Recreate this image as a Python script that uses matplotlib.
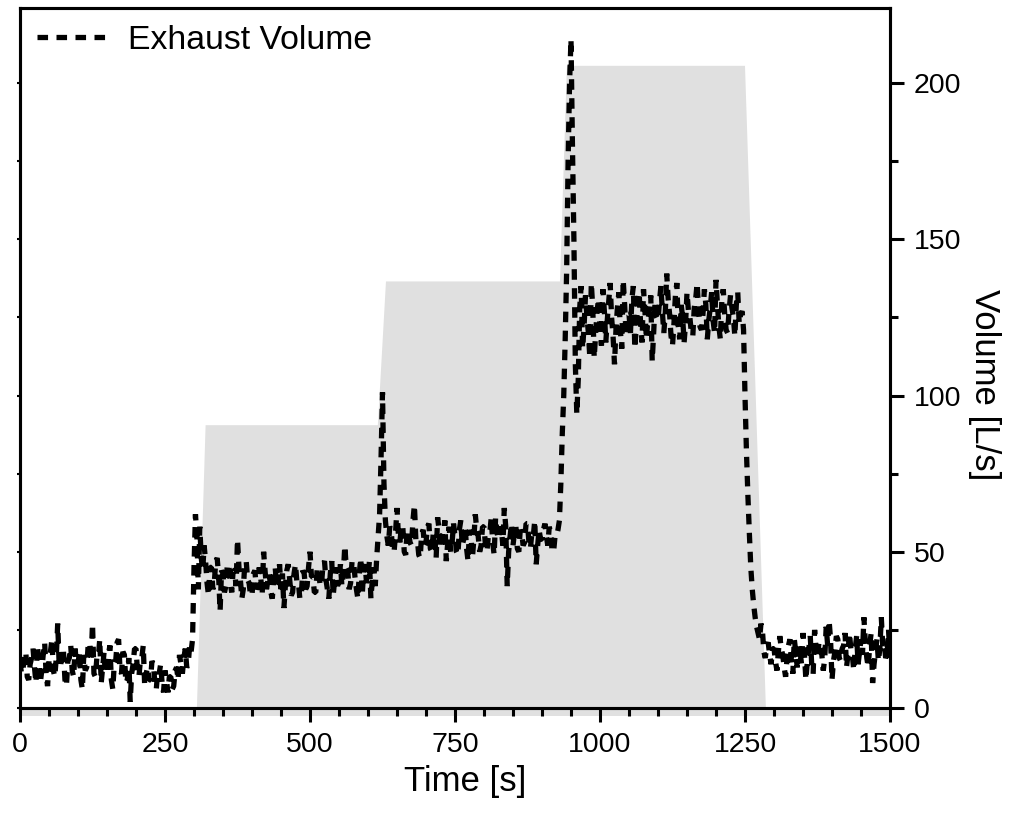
import numpy as np
import matplotlib
matplotlib.use('Agg')
import matplotlib.pyplot as plt
from matplotlib.ticker import MultipleLocator

plt.rcParams['font.family'] = ['Liberation Sans', 'DejaVu Sans']

# ---- data, one row = 50 s ----
time_step_s = 2.5
volume_Ls = [
    15, 11, 12, 17, 18, 10, 9, 14, 16, 19, 13, 8, 20, 15, 8, 12, 17, 21, 11, 7,
    15, 18, 22, 12, 10, 16, 27, 14, 13, 19, 18, 9, 7, 15, 16, 20, 12, 10, 19, 14,
    14, 18, 9, 6, 17, 12, 13, 20, 21, 15, 27, 11, 10, 16, 16, 22, 8, 13, 18, 11,
    12, 17, 20, 9, 6, 14, 15, 21, 22, 12, 11, 18, 17, 8, 9, 16, 2, 11, 14, 19,
    19, 12, 10, 15, 16, 20, 7, 11, 13, 9, 9, 15, 14, 8, 6, 12, 11, 14, 8, 5,
    12, 9, 5, 10, 10, 6, 7, 12, 13, 9, 17, 14, 11, 16, 19, 13, 14, 20, 18, 22,
    45, 62, 55, 38, 58, 48, 44, 52, 47, 40, 36, 45, 45, 38, 40, 47, 48, 42, 31, 44,
    43, 37, 39, 46, 46, 40, 37, 44, 44, 39, 54, 45, 41, 35, 38, 46, 47, 41, 40, 36,
    36, 43, 44, 38, 39, 45, 42, 36, 50, 44, 38, 41, 43, 37, 35, 42, 45, 39, 40, 46,
    38, 43, 32, 39, 44, 46, 41, 36, 37, 43, 46, 40, 40, 35, 36, 44, 43, 38, 39, 45,
    50, 42, 42, 37, 37, 45, 44, 39, 40, 46, 47, 41, 38, 35, 43, 47, 36, 41, 45, 39,
    41, 46, 39, 43, 52, 45, 44, 38, 40, 47, 47, 42, 38, 35, 43, 48, 36, 44, 46, 40,
    42, 47, 35, 41, 45, 39, 48, 55, 62, 80, 101, 72, 60, 55, 52, 58, 57, 50, 50, 56,
    64, 55, 53, 58, 58, 50, 49, 57, 56, 53, 52, 60, 65, 54, 54, 49, 48, 56, 57, 52,
    53, 58, 59, 51, 50, 56, 55, 48, 61, 57, 51, 55, 56, 60, 47, 53, 58, 50, 53, 59,
    55, 50, 49, 57, 60, 52, 54, 58, 51, 47, 57, 55, 48, 54, 62, 57, 55, 50, 52, 58,
    58, 52, 50, 55, 56, 61, 53, 49, 61, 56, 54, 58, 57, 52, 64, 58, 39, 50, 55, 59,
    52, 56, 58, 51, 50, 57, 56, 52, 53, 59, 59, 53, 51, 56, 55, 60, 46, 52, 57, 54,
    54, 57, 59, 55, 52, 58, 56, 50, 50, 55, 55, 57, 60, 72, 88, 100, 118, 140, 175, 200,
    214, 180, 150, 110, 94, 105, 128, 135, 115, 122, 132, 125, 120, 112, 136, 128, 112, 120, 127, 131,
    122, 116, 134, 127, 117, 124, 130, 136, 125, 119, 110, 121, 128, 133, 121, 115, 137, 129, 119, 126,
    126, 120, 131, 135, 115, 122, 129, 133, 123, 117, 134, 127, 118, 124, 127, 132, 111, 120, 130, 125,
    124, 130, 135, 127, 120, 126, 139, 131, 126, 119, 116, 123, 132, 136, 122, 118, 129, 125, 117, 123,
    133, 127, 125, 120, 119, 128, 131, 136, 127, 122, 121, 126, 134, 129, 118, 124, 128, 133, 124, 120,
    137, 129, 122, 118, 130, 134, 126, 121, 120, 127, 132, 128, 125, 119, 129, 133, 123, 126, 127, 121,
    100, 82, 68, 56, 45, 38, 33, 29, 26, 24, 22, 27, 25, 18, 16, 20, 21, 17, 14, 19,
    19, 15, 12, 18, 23, 19, 17, 13, 10, 16, 20, 22, 15, 11, 22, 18, 13, 20, 18, 14,
    24, 17, 9, 15, 19, 23, 14, 11, 25, 19, 16, 21, 21, 17, 12, 16, 26, 20, 28, 22,
    9, 15, 18, 23, 22, 16, 15, 19, 20, 24, 13, 17, 24, 19, 17, 12, 19, 23, 14, 18,
    22, 17, 29, 21, 16, 13, 20, 24, 8, 14, 18, 22, 15, 19, 29, 20, 21, 16, 17, 25,
    16,
]
time_s = np.arange(len(volume_Ls)) * time_step_s

shade_time = [305, 320, 617, 631, 931, 943, 1250, 1286]
shade_level = [0, 90.5, 90.5, 136.5, 136.5, 205.5, 205.5, 0]

x_ticks = [0, 250, 500, 750, 1000, 1250, 1500]
y_ticks = [0, 50, 100, 150, 200]

# ---- figure ----
W, H = 1016, 814
fig = plt.figure(figsize=(W / 100, H / 100), dpi=100)
ax = fig.add_axes([20 / W, 1 - 708 / H, 870 / W, 700 / H])

ax.fill(shade_time, shade_level, color='#e0e0e0', lw=0, zorder=1)
ax.axhspan(-2.4, -0.6, color='#e0e0e0', lw=0, clip_on=False, zorder=0)
ax.plot(time_s, volume_Ls, color='black', lw=3.8, dashes=(2.0, 1.6),
        solid_capstyle='butt', dash_capstyle='butt', dash_joinstyle='bevel',
        label='Exhaust Volume', zorder=3)

ax.set_xlim(0, 1500)
ax.set_ylim(0, 224)

for s in ax.spines.values():
    s.set_linewidth(2.2)

ax.set_xticks(x_ticks)
ax.set_xticklabels([str(v) for v in x_ticks])
ax.xaxis.set_minor_locator(MultipleLocator(50))
ax.tick_params(axis='x', which='major', direction='out', length=10, width=2.2,
               labelsize=20.5, pad=7)
ax.tick_params(axis='x', which='minor', direction='out', length=6, width=2.2)
ax.tick_params(axis='x', top=False, which='both')

# left axis: tiny ticks, no labels
ax.yaxis.set_major_locator(MultipleLocator(25))
ax.tick_params(axis='y', which='major', direction='out', length=2.5, width=1.5,
               labelleft=False, right=False)

# right axis with labels
ax2 = ax.twinx()
ax2.set_ylim(ax.get_ylim())
for s in ax2.spines.values():
    s.set_linewidth(2.2)
ax2.set_yticks(y_ticks)
ax2.set_yticklabels([str(v) for v in y_ticks])
ax2.yaxis.set_minor_locator(MultipleLocator(25))
ax2.tick_params(axis='y', which='major', direction='out', length=10, width=2.2,
                labelsize=20.5, pad=7)
ax2.tick_params(axis='y', which='minor', direction='out', length=6, width=2.2)

fig.text(465 / W, 1 - 781 / H, 'Time [s]', fontsize=25, ha='center', va='center')
fig.text(985 / W, 1 - 385 / H, 'Volume [L/s]', fontsize=25, rotation=-90,
         ha='center', va='center')

ax.legend(loc='upper left', bbox_to_anchor=(17 / 870, 0.976), frameon=False,
          fontsize=24.3, handlelength=2.2, handletextpad=0.5,
          borderpad=0, borderaxespad=0)

fig.savefig('out.png', dpi=100)
